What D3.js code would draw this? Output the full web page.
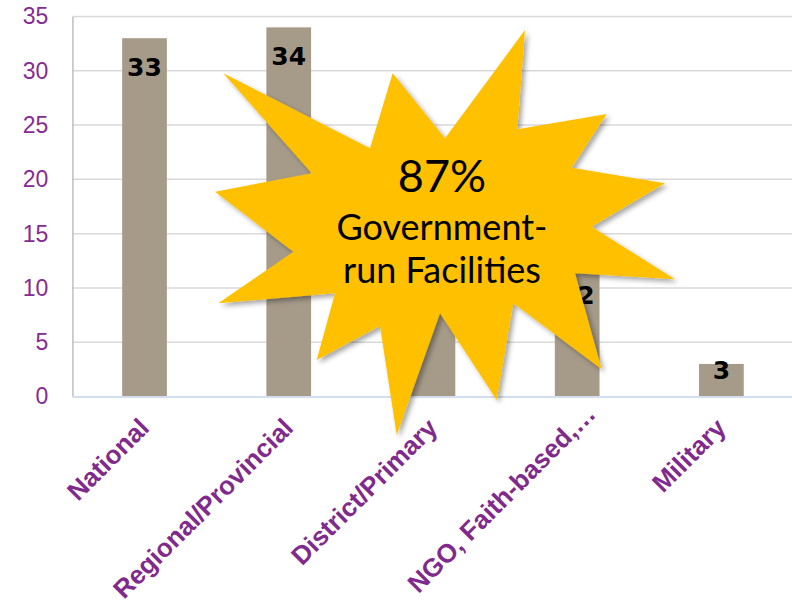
<!DOCTYPE html>
<html>
<head>
<meta charset="utf-8">
<script src="https://cdn.jsdelivr.net/npm/d3@7"></script>
<style>
  body { margin: 0; background: #fff; }
  svg { display: block; }
</style>
</head>
<body>
<div id="chart"></div>
<script>
// data (District/Primary is hidden under the callout; 18 makes the shares add to 100)
const categories = ["National", "Regional/Provincial", "District/Primary", "NGO, Faith-based,\u2026", "Military"];
const facilityCounts = [33, 34, 18, 12, 3];
const yTickValues = [0, 5, 10, 15, 20, 25, 30, 35];
const burstLines = ["87%", "Government-", "run Facilities"];

const width = 792;
const height = 605;
const margin = { top: 16.5, right: -1.5, bottom: 208.5, left: 72.4 };

const svg = d3.select("#chart")
    .append("svg")
    .attr("width", width)
    .attr("height", height)
    .attr("viewBox", [0, 0, width, height]);

const x = d3.scaleBand()
    .domain(categories)
    .range([margin.left, width - margin.right])
    .paddingInner(0.69)
    .paddingOuter(0.345);

const y = d3.scaleLinear()
    .domain([0, 35])
    .range([height - margin.bottom, margin.top]);

// gridlines
svg.append("g")
    .selectAll("line")
    .data(yTickValues.filter(d => d > 0))
    .join("line")
    .attr("x1", margin.left)
    .attr("x2", width)
    .attr("y1", d => y(d))
    .attr("y2", d => y(d))
    .attr("stroke", "#d9d9d9")
    .attr("stroke-width", 1.5);

// y axis
const yAxis = svg.append("g")
    .attr("transform", `translate(${margin.left},0)`)
    .call(d3.axisLeft(y).tickValues(yTickValues).tickSize(0).tickPadding(24));
yAxis.select(".domain").attr("stroke", "#bfbfbf").attr("stroke-width", 1.5);
yAxis.selectAll("text")
    .attr("fill", "#862b94")
    .style("font-family", "Arial, 'Liberation Sans', sans-serif")
    .style("font-size", "23px");

// bars
svg.append("g")
    .selectAll("rect")
    .data(categories)
    .join("rect")
    .attr("x", d => x(d))
    .attr("width", x.bandwidth())
    .attr("y", (d, i) => y(facilityCounts[i]))
    .attr("height", (d, i) => y(0) - y(facilityCounts[i]))
    .attr("fill", "#a69b89");

// x axis baseline
svg.append("line")
    .attr("x1", margin.left)
    .attr("x2", width)
    .attr("y1", y(0) + 0.5)
    .attr("y2", y(0) + 0.5)
    .attr("stroke", "#d3def3")
    .attr("stroke-width", 2);

// value labels inside bar tops
svg.append("g")
    .selectAll("text")
    .data(categories)
    .join("text")
    .attr("x", d => x(d) + x.bandwidth() / 2)
    .attr("y", (d, i) => Math.min(y(facilityCounts[i]) + 38, y(0) - 18))
    .attr("text-anchor", "middle")
    .style("font-family", "'DejaVu Sans', Verdana, sans-serif")
    .style("font-weight", "bold")
    .style("font-size", "25px")
    .attr("fill", "#000")
    .text((d, i) => facilityCounts[i]);

// category labels, rotated (the truncated one sits a little further up the diagonal)
svg.append("g")
    .selectAll("text")
    .data(categories)
    .join("text")
    .attr("transform", d => {
        const shift = d.endsWith("\u2026") ? 14 : 0;
        return `translate(${x(d) + x.bandwidth() / 2 + 6 + shift},${y(0) + 33 - shift}) rotate(-45)`;
    })
    .attr("text-anchor", "end")
    .style("font-family", "Arial, 'Liberation Sans', sans-serif")
    .style("font-weight", "bold")
    .style("font-size", "26px")
    .attr("fill", "#7f2a8c")
    .text(d => d);

// starburst callout
const defs = svg.append("defs");
const shadow = defs.append("filter").attr("id", "burstShadow")
    .attr("x", "-10%").attr("y", "-10%").attr("width", "130%").attr("height", "130%");
shadow.append("feDropShadow")
    .attr("dx", 3).attr("dy", 3).attr("stdDeviation", 2.5)
    .attr("flood-color", "#000").attr("flood-opacity", 0.35);

const burst = [
    [223.3, 73.3], [370, 148.3], [392.7, 73.3], [445, 138.3], [525, 30], [517.3, 129.3],
    [606.7, 114], [571.7, 167.7], [665, 183.3], [591.7, 226.7], [675, 279.3], [575, 273.3],
    [601.7, 369.3], [513.3, 303.3], [496.7, 400], [440, 313.3], [396.7, 435], [380, 326],
    [316.7, 360], [335, 293.3], [218.3, 303.3], [293.3, 251.7], [215, 191.7], [311.7, 173.3]
];
svg.append("path")
    .attr("d", d3.line()(burst) + "Z")
    .attr("fill", "#ffc000")
    .attr("filter", "url(#burstShadow)");

const burstText = svg.append("text")
    .attr("text-anchor", "middle")
    .style("font-family", "Lato, 'Open Sans', sans-serif")
    .attr("fill", "#000");
burstText.selectAll("tspan")
    .data(burstLines)
    .join("tspan")
    .attr("x", 442)
    .attr("y", (d, i) => [192, 240, 283][i])
    .style("font-size", (d, i) => i === 0 ? "45px" : "36px")
    .text(d => d);
</script>
</body>
</html>
